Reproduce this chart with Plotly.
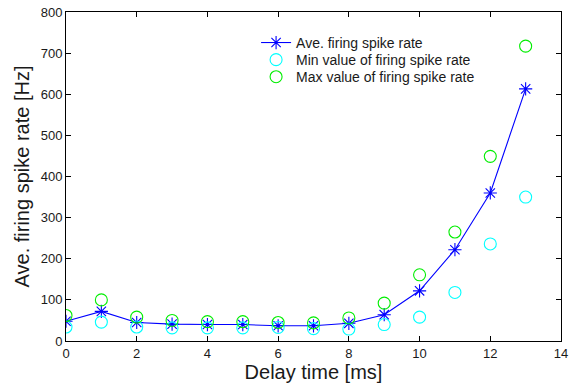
import plotly.graph_objects as go

delay = [0, 1, 2, 3, 4, 5, 6, 7, 8, 9, 10, 11, 12, 13]
ave_rate = [48, 72, 45, 41, 40, 40, 37, 37, 43, 64, 122, 222, 360, 613]
min_rate = [34, 46, 34, 32, 32, 32, 33, 30, 29, 40, 58, 118, 236, 350]
max_rate = [62, 100, 58, 50, 47, 47, 45, 44, 56, 92, 161, 265, 449, 717]

x_ticks = [0, 2, 4, 6, 8, 10, 12, 14]
y_ticks = [0, 100, 200, 300, 400, 500, 600, 700, 800]

font = "Liberation Sans, Arial, sans-serif"
txt = "#1a1a1a"

fig = go.Figure()
fig.add_trace(go.Scatter(
    x=delay, y=ave_rate, mode="lines+markers", name="Ave. firing spike rate",
    line=dict(color="#0000ff", width=1.1),
    marker=dict(symbol="asterisk-open", size=11, color="#0000ff",
                line=dict(color="#0000ff", width=1.1)),
    legend="legend", showlegend=True,
))
fig.add_trace(go.Scatter(
    x=delay, y=min_rate, mode="markers", name="Min value of firing spike rate",
    marker=dict(symbol="circle-open", size=12, color="#00ffff",
                line=dict(color="#00f0ff", width=1.1)),
    legend="legend2", showlegend=True,
))
fig.add_trace(go.Scatter(
    x=delay, y=max_rate, mode="markers", name="Max value of firing spike rate",
    marker=dict(symbol="circle-open", size=12, color="#00ee00",
                line=dict(color="#00e000", width=1.1)),
    legend="legend3", showlegend=True,
))

axis_common = dict(
    showline=True, linecolor="black", linewidth=1, mirror="ticks",
    ticks="inside", ticklen=5, tickcolor="black", showgrid=False, zeroline=False,
    automargin=False,
    tickfont=dict(family=font, size=13, color=txt),
)

fig.update_xaxes(range=[0, 14], tickvals=x_ticks, ticktext=[str(v) for v in x_ticks],
                 title=dict(text="Delay time [ms]", font=dict(family=font, size=20, color=txt),
                            standoff=4),
                 **axis_common)
fig.update_yaxes(range=[0, 800], tickvals=y_ticks, ticktext=[str(v) for v in y_ticks],
                 title=dict(text="Ave. firing spike rate [Hz]", font=dict(family=font, size=20, color=txt),
                            standoff=5),
                 **axis_common)

leg_common = dict(x=0.384, xanchor="left", yanchor="middle",
                  bgcolor="rgba(0,0,0,0)", font=dict(family=font, size=14, color=txt))

fig.update_layout(
    width=570, height=388,
    showlegend=True,
    margin=dict(l=66, r=9, t=12, b=47, autoexpand=False),
    plot_bgcolor="white", paper_bgcolor="white",
    legend=dict(y=0.906, **leg_common),
    legend2=dict(y=0.854, **leg_common),
    legend3=dict(y=0.802, **leg_common),
)

fig.write_html("out.html", config={"displayModeBar": False},
               post_script="document.body.style.margin='0';document.body.style.overflow='hidden';")
